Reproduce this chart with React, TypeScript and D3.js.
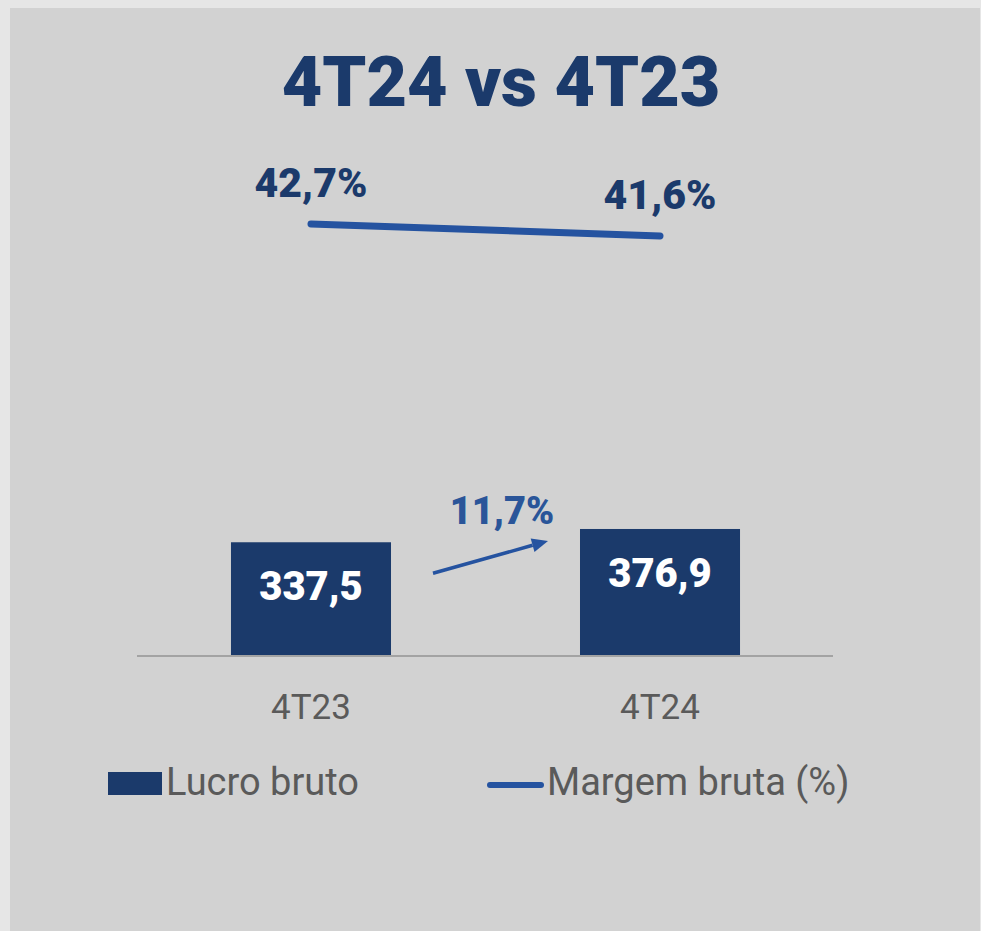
import React from "react";
import * as d3 from "d3";

const categories = ["4T23", "4T24"];
const lucroBruto = [337.5, 376.9];
const margemBruta = [42.7, 41.6];
const barLabels = ["337,5", "376,9"];
const marginLabels = ["42,7%", "41,6%"];
const growthLabel = "11,7%";
const title = "4T24 vs 4T23";

const W = 981;
const H = 931;
const navy = "#1b3a6b";
const blue = "#2553a0";
const gray = "#5a5a5a";
const bold = "Roboto, 'Noto Sans', sans-serif";

const App = () => {
  const x = d3
    .scaleBand()
    .domain(categories)
    .range([136.5, 834.5])
    .paddingInner(0.5415)
    .paddingOuter(0.2707);
  const bw = x.bandwidth();
  const cx = (c) => x(c) + bw / 2;

  const yBar = d3.scaleLinear().domain([0, 1000]).range([656, 319]);
  const yLine = d3.scaleLinear().domain([40, 45]).range([253.4, 198.9]);

  const line = d3
    .line()
    .x((d, i) => cx(categories[i]))
    .y((d) => yLine(d));

  // arrow between the two bars
  const ax1 = x(categories[0]) + bw + 42;
  const ax2 = x(categories[1]) - 32;
  const ay1 = yBar(lucroBruto[0]) + 31;
  const ay2 = yBar(lucroBruto[1]) + 12;
  const ang = Math.atan2(ay2 - ay1, ax2 - ax1);
  const hl = 16;
  const hw = 7;
  const bx = ax2 - hl * Math.cos(ang);
  const by = ay2 - hl * Math.sin(ang);
  const head = [
    [ax2, ay2],
    [bx + hw * Math.sin(ang), by - hw * Math.cos(ang)],
    [bx - hw * Math.sin(ang), by + hw * Math.cos(ang)],
  ];

  return (
    <svg
      width={W}
      height={H}
      style={{ position: "absolute", left: 0, top: 0 }}
    >
      <rect x={0} y={0} width={W} height={H} fill="#e6e6e6" />
      <rect x={10} y={8} width={W - 11} height={H - 8} fill="#d2d2d2" />

      <text
        x={501}
        y={106}
        textAnchor="middle"
        fontFamily={bold}
        fontWeight={900}
        fontSize={70}
        fill={navy}
      >
        {title}
      </text>

      {/* margem bruta line */}
      <path
        d={line(margemBruta)}
        fill="none"
        stroke={blue}
        strokeWidth={7}
        strokeLinecap="round"
      />
      {margemBruta.map((v, i) => (
        <text
          key={"m" + i}
          x={cx(categories[i])}
          y={yLine(v) - 27}
          textAnchor="middle"
          fontFamily={bold}
          fontWeight={900}
          fontSize={41}
          fill={navy}
        >
          {marginLabels[i]}
        </text>
      ))}

      {/* bars */}
      {lucroBruto.map((v, i) => (
        <rect
          key={"b" + i}
          x={x(categories[i])}
          y={yBar(v)}
          width={bw}
          height={yBar(0) - yBar(v)}
          fill={navy}
        />
      ))}
      {lucroBruto.map((v, i) => (
        <text
          key={"bl" + i}
          x={cx(categories[i])}
          y={yBar(v) + 58}
          textAnchor="middle"
          fontFamily={bold}
          fontWeight={900}
          fontSize={40}
          fill="#ffffff"
        >
          {barLabels[i]}
        </text>
      ))}

      <line x1={137} x2={833} y1={656} y2={656} stroke="#a3a3a3" strokeWidth={2} />

      {categories.map((c) => (
        <text
          key={c}
          x={cx(c)}
          y={719}
          textAnchor="middle"
          fontFamily="Roboto, sans-serif"
          fontSize={35}
          fill={gray}
        >
          {c}
        </text>
      ))}

      {/* growth arrow */}
      <line x1={ax1} y1={ay1} x2={bx} y2={by} stroke={blue} strokeWidth={3.5} />
      <polygon points={head.map((p) => p.join(",")).join(" ")} fill={blue} />
      <text
        x={502}
        y={524}
        textAnchor="middle"
        fontFamily={bold}
        fontWeight={900}
        fontSize={38}
        fill="#2a5599"
      >
        {growthLabel}
      </text>

      {/* legend */}
      <rect x={108} y={772} width={54} height={23} fill={navy} />
      <text x={166} y={795} fontFamily="Roboto, sans-serif" fontSize={38} fill={gray}>
        Lucro bruto
      </text>
      <line
        x1={490}
        x2={541}
        y1={785}
        y2={785}
        stroke={blue}
        strokeWidth={6}
        strokeLinecap="round"
      />
      <text x={547} y={795} fontFamily="Roboto, sans-serif" fontSize={38} fill={gray}>
        Margem bruta (%)
      </text>
    </svg>
  );
};

export default App;
